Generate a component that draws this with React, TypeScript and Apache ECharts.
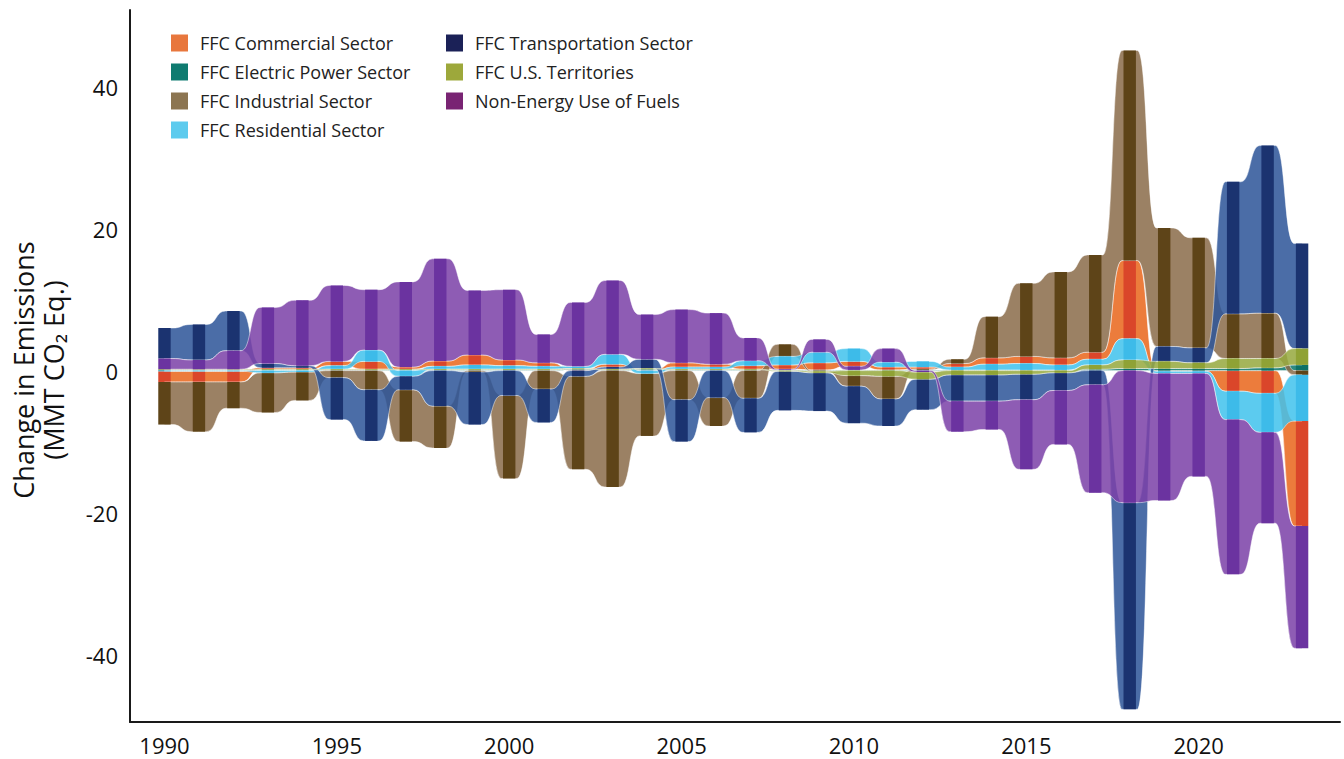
import React, { useEffect, useRef } from "react";
import * as echarts from "echarts";

const years = [
  1990, 1991, 1992, 1993, 1994, 1995, 1996, 1997, 1998, 1999,
  2000, 2001, 2002, 2003, 2004, 2005, 2006, 2007, 2008, 2009,
  2010, 2011, 2012, 2013, 2014, 2015, 2016, 2017, 2018, 2019,
  2020, 2021, 2022, 2023,
];

const seriesNames = [
  "FFC Commercial Sector",
  "FFC Electric Power Sector",
  "FFC Industrial Sector",
  "FFC Residential Sector",
  "FFC Transportation Sector",
  "FFC U.S. Territories",
  "Non-Energy Use of Fuels",
];

const commercial = [
  -1.5, -1.5, -1.5, 0.2, 0.2, 0.6, 1.1, 0.3, 0.75, 1.4,
  0.8, 0.5, 0.1, 0.4, 0.1, 0.6, 0.4, 0.5, 0.6, 1.0,
  0.7, 0.4, 0.3, 0.5, 0.9, 1.0, 1.0, 1.0, 11.0, -0.1,
  -0.1, -2.9, -3.2, -14.8,
];
const electricPower = [
  0.1, 0.1, 0.1, 0.1, 0.1, 0.1, 0.1, 0.1, 0.1, 0.1,
  0.1, 0.1, 0.1, 0.1, 0.1, 0.1, 0.1, 0.1, 0.1, 0.1,
  0.1, 0.1, 0.1, 0.1, 0.1, 0.1, 0.1, 0.2, 0.3, 0.3,
  0.3, 0.3, 0.4, 0.8,
];
const industrial = [
  -6.0, -7.0, -3.7, -5.6, -4.0, -1.0, -2.7, -7.3, -5.9, -0.2,
  -11.7, -2.6, -13.1, -16.4, -8.8, -4.1, -4.0, -3.9, 1.7, -0.1,
  -1.5, -3.2, 0.1, 0.6, 5.8, 10.3, 12.1, 13.7, 29.6, 16.7,
  15.5, 6.3, 6.4, -0.6,
];
const residential = [
  -0.1, -0.1, -0.1, -0.3, -0.2, 0.5, 1.6, -0.8, 0.4, 0.6,
  0.5, 0.4, 0.3, 1.4, -0.4, 0.3, 0.3, 0.7, 1.2, 1.5,
  1.8, 0.7, 0.8, 0.4, 0.8, 0.9, 0.7, 0.8, 3.0, -0.3,
  -0.3, -4.0, -5.5, -6.5,
];
const transportation = [
  4.3, 5.0, 5.6, 0.6, 0.3, -5.9, -7.2, -1.9, -5.0, -7.4,
  -3.5, -4.7, -0.8, 0.3, 1.3, -5.9, -3.8, -4.8, -5.5, -5.4,
  -5.2, -3.8, -4.3, -3.7, -3.7, -3.6, -2.5, -2.0, -29.1, 2.1,
  2.1, 18.6, 23.6, 14.8,
];
const territories = [
  0.1, 0.1, 0.1, 0.1, 0.1, 0.1, 0.1, 0.1, 0.1, 0.1,
  0.1, 0.1, 0.1, 0.1, 0.1, 0.1, 0.1, 0.1, -0.1, -0.2,
  -0.7, -0.8, -1.0, -0.6, -0.6, -0.5, -0.3, 0.6, 1.2, 1.0,
  0.8, 1.4, 1.3, 2.3,
];
const nonEnergy = [
  1.5, 1.3, 2.6, 7.9, 9.2, 10.7, 8.5, 12.0, 14.4, 9.1,
  9.9, 4.0, 9.0, 10.4, 6.3, 7.5, 7.2, 3.2, 0.1, 1.8,
  0.5, 1.9, -0.2, -4.3, -4.0, -9.8, -7.6, -15.2, -18.6, -17.9,
  -14.5, -21.8, -12.8, -17.2,
];

const yTickLabels = [-40, -20, 0, 20, 40];
const xTickStep = 5;
const yTitleLines = ["Change in Emissions", "(MMT CO\u2082 Eq.)"];

const allSeries = [commercial, electricPower, industrial, residential, transportation, territories, nonEnergy];

const legendColors = ["#E8773D", "#0F7B70", "#8C7551", "#5DCBEE", "#1B2157", "#9DA83B", "#792473"];
const ribbonTargets = ["#EC7C3C", "#2E8A80", "#9A8163", "#5CCBEF", "#4A6DA7", "#A5B55A", "#8E5CB4"];
const stripeColors = ["#DA462A", "#0D7166", "#5E4418", "#3DBBE9", "#1B3370", "#8FA235", "#6B33A0"];

const RIBBON_ALPHA = 0.86;
function onWhite(hex: string, a: number) {
  const h = hex.replace("#", "");
  const c = [0, 2, 4].map((i) => parseInt(h.slice(i, i + 2), 16));
  const b = c.map((v) => Math.max(0, Math.min(255, Math.round((v - (1 - a) * 255) / a))));
  return `rgba(${b[0]},${b[1]},${b[2]},${a})`;
}

// stacking: per year, smallest magnitude nearest zero, positives up, negatives down
function buildStacks() {
  const n = years.length;
  const lows = allSeries.map(() => new Array(n).fill(0));
  const highs = allSeries.map(() => new Array(n).fill(0));
  for (let i = 0; i < n; i++) {
    const idx = allSeries.map((_, s) => s);
    const pos = idx
      .filter((s) => allSeries[s][i] >= 0)
      .sort((a, b) => allSeries[a][i] - allSeries[b][i] || a - b);
    const neg = idx
      .filter((s) => allSeries[s][i] < 0)
      .sort((a, b) => allSeries[b][i] - allSeries[a][i] || a - b);
    let acc = 0;
    for (const s of pos) {
      lows[s][i] = acc;
      acc += allSeries[s][i];
      highs[s][i] = acc;
    }
    acc = 0;
    for (const s of neg) {
      highs[s][i] = acc;
      acc += allSeries[s][i];
      lows[s][i] = acc;
    }
  }
  return { lows, highs };
}

const FONT = "'Open Sans', 'DejaVu Sans', sans-serif";

function buildOption() {
  const { lows, highs } = buildStacks();
  const n = years.length;
  const series = allSeries.map((_, s) => {
    const data = years.map((y, i) => {
      const j = Math.min(i + 1, n - 1);
      return [y, lows[s][i], highs[s][i], years[j], lows[s][j], highs[s][j]];
    });
    const ribbonFill = onWhite(ribbonTargets[s], RIBBON_ALPHA);
    const stripe = stripeColors[s];
    return {
      type: "custom",
      name: seriesNames[s],
      coordinateSystem: "cartesian2d",
      silent: true,
      itemStyle: { color: legendColors[s] },
      encode: { x: [0, 3], y: [1, 2, 4, 5] },
      data,
      renderItem: (params: any, api: any) => {
        const x0 = api.value(0);
        const lo0 = api.value(1);
        const hi0 = api.value(2);
        const x1 = api.value(3);
        const lo1 = api.value(4);
        const hi1 = api.value(5);
        const a0 = api.coord([x0, hi0]);
        const b0 = api.coord([x0, lo0]);
        const a1 = api.coord([x1, hi1]);
        const b1 = api.coord([x1, lo1]);
        const step = api.size([1, 0])[0];
        const sw = step * 0.36;
        const children: any[] = [];
        if (x1 > x0) {
          const f = sw / 2 + 1.5;
          const L = a0[0];
          const R = a1[0];
          const d = R - L - 2 * f;
          const k = 0.55 * d;
          const p =
            `M${L},${a0[1]} L${L + f},${a0[1]} ` +
            `C${L + f + k},${a0[1]} ${R - f - k},${a1[1]} ${R - f},${a1[1]} ` +
            `L${R},${a1[1]} L${R},${b1[1]} L${R - f},${b1[1]} ` +
            `C${R - f - k},${b1[1]} ${L + f + k},${b0[1]} ${L + f},${b0[1]} ` +
            `L${L},${b0[1]} Z`;
          children.push({
            type: "path",
            shape: { pathData: p },
            style: { fill: ribbonFill, stroke: "rgba(255,255,255,0.6)", lineWidth: 0.8 },
          });
        }
        const hgt = b0[1] - a0[1];
        if (hgt > 0.05) {
          children.push({
            type: "rect",
            shape: { x: a0[0] - sw / 2, y: a0[1], width: sw, height: hgt },
            style: { fill: stripe },
          });
        }
        return { type: "group", children };
      },
    };
  });

  const legendBase = {
    orient: "vertical",
    top: 34,
    padding: 0,
    itemWidth: 17,
    itemHeight: 17,
    itemGap: 11,
    icon: "rect",
    selectedMode: false,
    textStyle: { fontFamily: FONT, fontSize: 18, color: "#222", padding: [0, 0, 0, 7] },
  };

  return {
    animation: false,
    color: legendColors,
    textStyle: { fontFamily: FONT },
    grid: { left: 130, right: 4, top: 10, bottom: 37, containLabel: false },
    legend: [
      { ...legendBase, left: 171, data: seriesNames.slice(0, 4) },
      { ...legendBase, left: 446, data: seriesNames.slice(4) },
    ],
    xAxis: {
      type: "value",
      min: 1989,
      max: 2024.1,
      interval: 1,
      axisLine: { show: true, onZero: false, lineStyle: { color: "#1a1a1a", width: 2 } },
      axisTick: { show: false },
      splitLine: { show: false },
      axisLabel: {
        margin: 12,
        fontSize: 22,
        color: "#111",
        fontFamily: FONT,
        formatter: (v: number) =>
          Number.isInteger(v) && v % xTickStep === 0 && years.includes(v) ? String(v) : "",
      },
    },
    yAxis: {
      type: "value",
      min: -49.5,
      max: 50.8,
      interval: 0.5,
      axisLine: { show: true, onZero: false, lineStyle: { color: "#1a1a1a", width: 2 } },
      axisTick: { show: false },
      splitLine: { show: false },
      axisLabel: {
        margin: 12,
        fontSize: 22,
        color: "#111",
        fontFamily: FONT,
        formatter: (v: number) => {
          const r = Math.round(v);
          return Math.abs(v - r) < 1e-6 && yTickLabels.includes(r) ? String(r) : "";
        },
      },
    },
    graphic: yTitleLines.map((t, i) => ({
      type: "text",
      x: i === 0 ? 23 : 53,
      y: 370,
      rotation: Math.PI / 2,
      style: {
        text: t,
        align: "center",
        verticalAlign: "middle",
        fontFamily: FONT,
        fontSize: 27,
        fill: "#111",
      },
    })),
    series,
  };
}

export default function App() {
  const ref = useRef<HTMLDivElement>(null);
  useEffect(() => {
    document.body.style.margin = "0";
    const chart = echarts.init(ref.current!, null, { renderer: "svg" });
    chart.setOption(buildOption() as any);
    return () => chart.dispose();
  }, []);
  return <div ref={ref} style={{ width: 1344, height: 759 }} />;
}
